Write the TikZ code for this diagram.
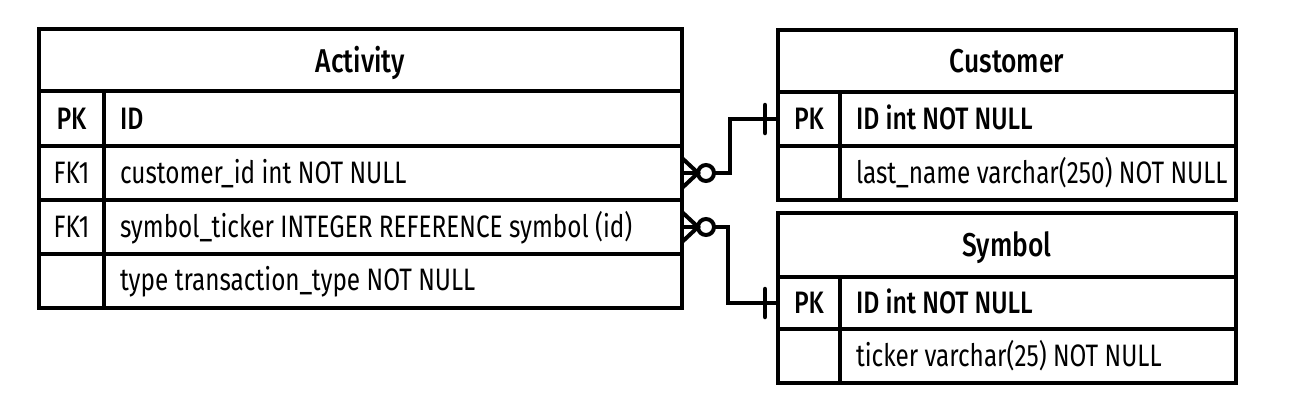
\documentclass[tikz,border=0pt]{standalone}
\usepackage{fontspec}
\setmainfont{Fira Sans}[FakeStretch=0.785,BoldFont={Fira Sans Medium},BoldFeatures={FakeStretch=0.8}]
\usetikzlibrary{calc}
\begin{document}
\begin{tikzpicture}[x=1pt,y=-1pt,
  cell/.style={draw,line width=4pt,inner sep=0pt,outer sep=0pt,rectangle},
  txt/.style={inner sep=0pt,outer sep=0pt,anchor=base west,font=\fontsize{31}{34}\selectfont},
  btxt/.style={txt,font=\fontsize{31}{34}\selectfont\bfseries},
  ctxt/.style={inner sep=0pt,outer sep=0pt,anchor=base,font=\fontsize{31}{34}\selectfont},
  bctxt/.style={ctxt,font=\fontsize{31}{34}\selectfont\bfseries},
  htxt/.style={ctxt,font=\fontsize{33}{36}\selectfont\bfseries},
  conn/.style={line width=4pt},
  bar/.style={line width=4.5pt,line cap=round}]
\useasboundingbox (0,0) rectangle (1294,408);
% Activity
\node[cell,minimum width=643pt,minimum height=62pt] (actH) at (360.5,60) {};
\node[cell,minimum width=643pt,minimum height=55pt] (actR1) at (360.5,118.5) {};
\node[cell,minimum width=643pt,minimum height=54pt] (actR2) at (360.5,173) {};
\node[cell,minimum width=643pt,minimum height=54pt] (actR3) at (360.5,227) {};
\node[cell,minimum width=643pt,minimum height=54pt] (actR4) at (360.5,281) {};
\node[cell,minimum width=65pt,minimum height=217pt] (actK) at (71.5,199.5) {};
\node[htxt] (actT) at (360.5,72) {Activity};
\node[bctxt] (actK1) at (71.5,129) {PK};
\node[ctxt] (actK2) at (71.5,183) {FK1};
\node[ctxt] (actK3) at (71.5,237) {FK1};
\node[btxt] (actF1) at (120,129) {ID};
\node[txt] (actF2) at (120,183) {customer\_id int NOT NULL};
\node[txt] (actF3) at (120,237) {symbol\_ticker INTEGER REFERENCE symbol (id)};
\node[txt] (actF4) at (120,290) {type transaction\_type NOT NULL};
% Customer
\node[cell,minimum width=458pt,minimum height=62pt] (cusH) at (1007,61) {};
\node[cell,minimum width=458pt,minimum height=54pt] (cusR1) at (1007,119) {};
\node[cell,minimum width=458pt,minimum height=54pt] (cusR2) at (1007,173) {};
\node[cell,minimum width=62pt,minimum height=108pt] (cusK) at (809,146) {};
\node[htxt] (cusT) at (1007,72) {Customer};
\node[bctxt] (cusK1) at (809,129) {PK};
\node[btxt] (cusF1) at (856,129) {ID int NOT NULL};
\node[txt] (cusF2) at (856,183) {last\_name varchar(250) NOT NULL};
% Symbol
\node[cell,minimum width=458pt,minimum height=64pt] (symH) at (1007,245) {};
\node[cell,minimum width=458pt,minimum height=52pt] (symR1) at (1007,303) {};
\node[cell,minimum width=458pt,minimum height=54pt] (symR2) at (1007,356) {};
\node[cell,minimum width=62pt,minimum height=106pt] (symK) at (809,330) {};
\node[htxt] (symT) at (1007,256) {Symbol};
\node[bctxt] (symK1) at (809,313) {PK};
\node[btxt] (symF1) at (856,313) {ID int NOT NULL};
\node[txt] (symF2) at (856,366) {ticker varchar(25) NOT NULL};
% connector Activity -> Customer
\coordinate (c1) at ($(actR2.east)+(16,0)$);
\draw[conn] ($(actR2.east)+(0,-15)$) -- (c1) -- ($(actR2.east)+(0,15)$);
\draw[conn] (actR2.east) -- (c1);
\draw[conn] ($(c1)+(8,0)$) circle (8);
\draw[conn] ($(c1)+(16,0)$) -- ($(c1)+(32,0)$) |- (cusR1.west);
\draw[bar] ($(cusR1.west)+(-13,-14)$) -- ($(cusR1.west)+(-13,14)$);
% connector Activity -> Symbol
\coordinate (c2) at ($(actR3.east)+(16,0)$);
\draw[conn] ($(actR3.east)+(0,-15)$) -- (c2) -- ($(actR3.east)+(0,15)$);
\draw[conn] (actR3.east) -- (c2);
\draw[conn] ($(c2)+(8,0)$) circle (8);
\draw[conn] ($(c2)+(16,0)$) -- ($(c2)+(30,0)$) |- (symR1.west);
\draw[bar] ($(symR1.west)+(-13,-14)$) -- ($(symR1.west)+(-13,14)$);
\end{tikzpicture}
\end{document}
